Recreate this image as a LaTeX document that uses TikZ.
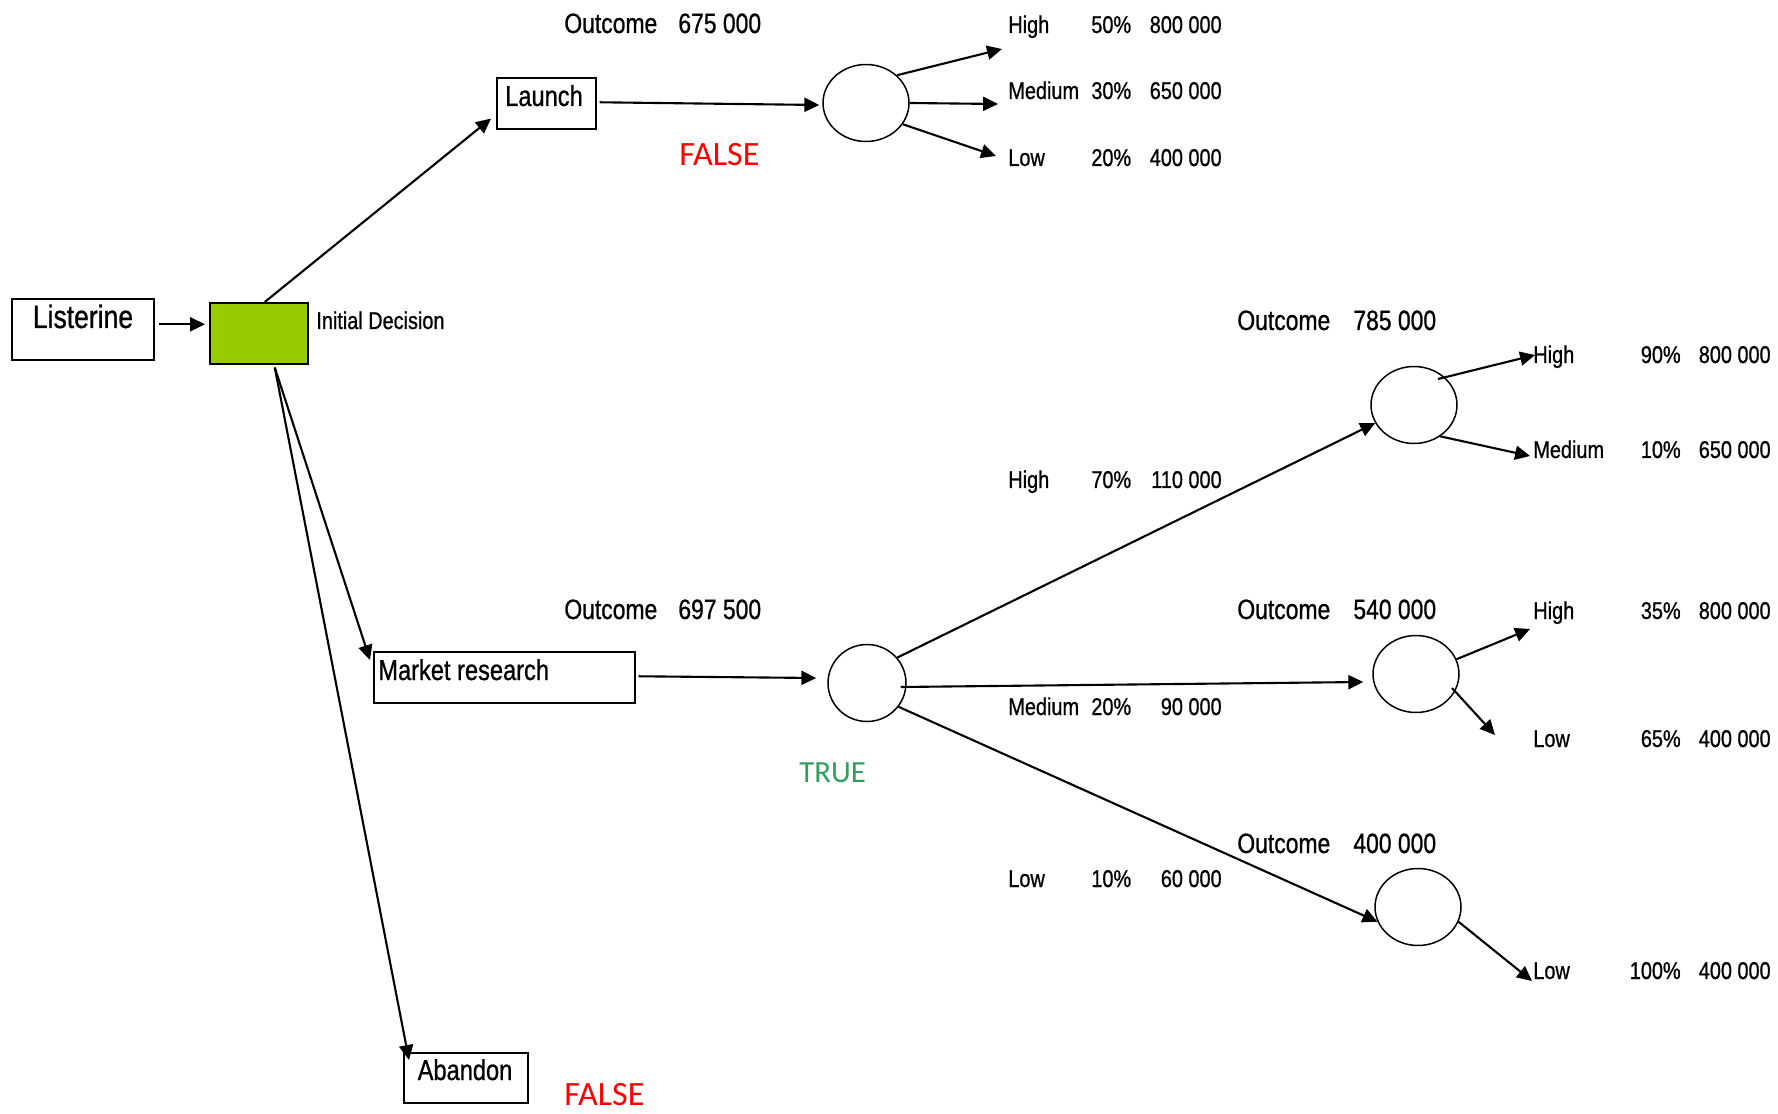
\documentclass[tikz,border=0pt]{standalone}
\usepackage{fontspec}
\setmainfont[FakeStretch=0.82,FakeBold=0.8]{Liberation Sans}
\newfontfamily\calib{Carlito}
\usetikzlibrary{arrows.meta,shapes.geometric}
\definecolor{decgreen}{HTML}{99CC00}
\definecolor{truegreen}{HTML}{2E9E5B}
\begin{document}
\begin{tikzpicture}[x=0.02cm,y=-0.02cm,
  conn/.style={line width=1.2pt,-{Triangle[length=8.5pt,width=8pt]}},
  box/.style={draw,line width=0.9pt,inner sep=0pt,anchor=north west},
  chance/.style={draw,ellipse,line width=0.85pt,inner sep=0pt,minimum width=1.72cm,minimum height=1.54cm},
  lbl/.style={anchor=base west,inner sep=0pt,font=\fontsize{13.8pt}{16pt}\selectfont},
  lblr/.style={anchor=base east,inner sep=0pt,font=\fontsize{13.8pt}{16pt}\selectfont},
  outc/.style={anchor=base west,inner sep=0pt,font=\fontsize{15.9pt}{18pt}\selectfont},
  boxtxt/.style={inner sep=0pt,font=\fontsize{16.4pt}{19pt}\selectfont},
  flag/.style={anchor=base west,inner sep=0pt,font=\calib\fontsize{19.4pt}{22pt}\selectfont}
]
\useasboundingbox[fill=white] (0,0) rectangle (1778,1114);

% boxes
\node[box,minimum width=2.84cm,minimum height=1.22cm] (list) at (11,298) {};
\node[box,fill=decgreen,minimum width=1.96cm,minimum height=1.22cm] (dec) at (209,302) {};
\node[box,minimum width=1.98cm,minimum height=1.02cm] (launch) at (496,77) {};
\node[box,minimum width=5.22cm,minimum height=1.02cm] (mr) at (373,651) {};
\node[box,minimum width=2.48cm,minimum height=1.0cm] (aband) at (403,1052) {};

\node[boxtxt,anchor=base,font=\fontsize{18.4pt}{21pt}\selectfont] (tlist) at (83,328) {Listerine};
\node[boxtxt,anchor=base] (tlaunch) at (544,106) {Launch};
\node[boxtxt,anchor=base west] (tmr) at (378,680) {Market research};
\node[boxtxt,anchor=base] (taband) at (465,1080) {Abandon};
\node[lbl] (tinit) at (316,329) {Initial Decision};

% chance nodes
\node[chance] (c1) at (866,103) {};
\node[chance,minimum width=1.56cm] (c2) at (867,683) {};
\node[chance] (c3) at (1414,405) {};
\node[chance] (c4) at (1416,674) {};
\node[chance] (c5) at (1418,907) {};

% outcomes
\node[outc] (o1a) at (564,33) {Outcome};  \node[outc] (o1b) at (678,33) {675 000};
\node[outc] (o2a) at (564,619) {Outcome}; \node[outc] (o2b) at (678,619) {697 500};
\node[outc] (o3a) at (1237,330) {Outcome}; \node[outc] (o3b) at (1353,330) {785 000};
\node[outc] (o4a) at (1237,619) {Outcome}; \node[outc] (o4b) at (1353,619) {540 000};
\node[outc] (o5a) at (1237,853) {Outcome}; \node[outc] (o5b) at (1353,853) {400 000};

% top branch labels
\node[lbl] (a1) at (1008,33) {High};   \node[lbl] (a2) at (1091,33) {50\%};  \node[lblr] (a3) at (1222,33) {800 000};
\node[lbl] (b1) at (1008,99) {Medium}; \node[lbl] (b2) at (1091,99) {30\%};  \node[lblr] (b3) at (1222,99) {650 000};
\node[lbl] (d1) at (1008,166) {Low};   \node[lbl] (d2) at (1091,166) {20\%}; \node[lblr] (d3) at (1222,166) {400 000};

% middle branch labels
\node[lbl] (e1) at (1008,488) {High};   \node[lbl] (e2) at (1091,488) {70\%}; \node[lblr] (e3) at (1222,488) {110 000};
\node[lbl] (f1) at (1008,715) {Medium}; \node[lbl] (f2) at (1091,715) {20\%}; \node[lblr] (f3) at (1222,715) {90 000};
\node[lbl] (g1) at (1008,887) {Low};    \node[lbl] (g2) at (1091,887) {10\%}; \node[lblr] (g3) at (1222,887) {60 000};

% right labels
\node[lbl] (p1) at (1533,363) {High};   \node[lblr] (p2) at (1681,363) {90\%};  \node[lblr] (p3) at (1771,363) {800 000};
\node[lbl] (q1) at (1533,458) {Medium}; \node[lblr] (q2) at (1681,458) {10\%};  \node[lblr] (q3) at (1771,458) {650 000};
\node[lbl] (r1) at (1533,619) {High};   \node[lblr] (r2) at (1681,619) {35\%};  \node[lblr] (r3) at (1771,619) {800 000};
\node[lbl] (s1) at (1533,747) {Low};    \node[lblr] (s2) at (1681,747) {65\%};  \node[lblr] (s3) at (1771,747) {400 000};
\node[lbl] (u1) at (1533,979) {Low};    \node[lblr] (u2) at (1681,979) {100\%}; \node[lblr] (u3) at (1771,979) {400 000};

% flags
\node[flag,text=red] (fa1) at (679,166) {FALSE};
\node[flag,text=red] (fa2) at (564,1105) {FALSE};
\node[flag,text=truegreen,font=\calib\fontsize{17.5pt}{20pt}\selectfont] (tr) at (799,782) {TRUE};

% arrow tips
\coordinate (h1tip) at (1002,49);
\coordinate (m1tip) at (998,104);
\coordinate (l1tip) at (996,156);
\coordinate (h3tip) at (1535,355);
\coordinate (m3tip) at (1530,456);
\coordinate (h4tip) at (1530,629);
\coordinate (l4tip) at (1495,735);
\coordinate (l5tip) at (1532,981);

% connectors
\draw[conn] ([shift={(4,-5)}]list.east) -- ([shift={(-4,-9)}]dec.west);
\draw[conn] ([shift={(6,0)}]dec.north) -- ([shift={(-5,-11)}]launch.south west);
\draw[conn] ([shift={(16,3)}]dec.south) -- ([shift={(-3,9)}]mr.north west);
\draw[conn] ([shift={(16,3)}]dec.south) -- ([shift={(6,8)}]aband.north west);
\draw[conn] ([shift={(3,-1)}]launch.east) -- ([shift={(-3,2)}]c1.west);
\draw[conn] (c1.north east) -- (h1tip);
\draw[conn] (c1.east) -- (m1tip);
\draw[conn] (c1.-30) -- (l1tip);
\draw[conn] ([shift={(3,-1)}]mr.east) -- ([shift={(-11,-5)}]c2.west);
\draw[conn] (c2.40) -- (c3.205);
\draw[conn] ([shift={(-6,4)}]c2.east) -- ([shift={(-9,8)}]c4.west);
\draw[conn] (c2.-37) -- (c5.200);
\draw[conn] ([shift={(24,-26)}]c3.center) -- (h3tip);
\draw[conn] (c3.-50) -- (m3tip);
\draw[conn] (c4.20) -- (h4tip);
\draw[conn] ([shift={(36,14)}]c4.center) -- (l4tip);
\draw[conn] (c5.-20) -- (l5tip);
\end{tikzpicture}
\end{document}
